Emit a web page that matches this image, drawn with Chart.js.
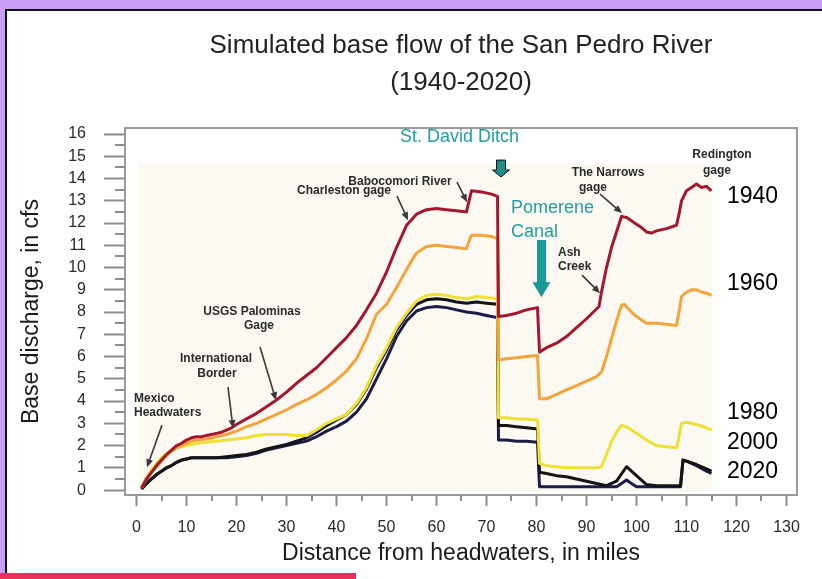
<!DOCTYPE html>
<html><head><meta charset="utf-8">
<script src="https://cdn.jsdelivr.net/npm/chart.js@4/dist/chart.umd.min.js"></script>
<style>html,body{margin:0;padding:0;background:#c99cf7;overflow:hidden}canvas{display:block}</style>
</head><body>
<canvas id="c" width="822" height="579"></canvas>
<script>
// ---------- DATA ----------
const xTicks = [0,10,20,30,40,50,60,70,80,90,100,110,120,130];
const yTicks = [0,1,2,3,4,5,6,7,8,9,10,11,12,13,14,15,16];
const seriesNames = ['1940','1960','1980','2000','2020'];

const miles1940 = [1,2,3,4,5,6,7,8,9,10,11,12,13,14,15,16,17,18,19,20,22,24,26,28,30,32,34,36,38,40,42,44,46,48,50,52,54,55,56,58,60,62,64,66,66.5,67,69,71,72.2,72.4,74,76,78,80.2,80.6,82,84,86,88,90,92.5,93,94,95,96,97,98,99,100,101,102,103,104,106,108,108.5,109,110,111,112,113,114,115];
const cfs1940   = [0.1,0.5,0.8,1.1,1.35,1.6,1.8,2.0,2.1,2.25,2.35,2.4,2.4,2.45,2.5,2.55,2.6,2.7,2.8,2.95,3.2,3.45,3.75,4.05,4.4,4.8,5.15,5.5,5.95,6.4,6.85,7.4,8.1,8.85,9.8,10.9,11.9,12.15,12.4,12.6,12.65,12.6,12.55,12.5,13.0,13.45,13.4,13.3,13.2,7.8,7.85,7.95,8.1,8.2,6.2,6.4,6.6,6.9,7.3,7.7,8.25,8.9,10.0,10.9,11.6,12.3,12.25,12.1,11.95,11.8,11.6,11.55,11.65,11.75,11.9,12.4,13.0,13.45,13.6,13.75,13.6,13.65,13.45];

const miles1960 = [1,2,3,4,5,6,7,8,9,10,11,12,14,16,18,20,22,24,26,28,30,32,34,36,38,40,42,44,46,48,50,52,54,55,56,58,60,62,64,66,66.5,67,69,71,72.2,72.4,74,76,78,80.2,80.6,82,84,86,88,90,92,93,94,95,96,97,97.5,99,100,102,104,106,108,108.5,109,110,111,112,113,114,115];
const cfs1960   = [0.1,0.5,0.8,1.05,1.3,1.55,1.75,1.9,2.0,2.1,2.2,2.25,2.3,2.4,2.5,2.65,2.85,3.0,3.2,3.4,3.6,3.85,4.05,4.3,4.6,4.95,5.35,5.9,6.8,7.9,8.35,9.1,9.9,10.3,10.65,10.95,11.0,10.95,10.9,10.85,11.2,11.45,11.45,11.4,11.3,5.85,5.9,5.95,6.0,6.05,4.1,4.1,4.3,4.5,4.7,4.9,5.1,5.3,6.0,6.8,7.6,8.3,8.35,8.0,7.8,7.5,7.5,7.45,7.4,8.0,8.7,8.9,9.0,9.0,8.9,8.85,8.75];

const miles1980 = [1,2,3,4,5,6,7,8,9,10,11,12,14,16,18,20,22,24,26,28,30,32,34,36,38,40,42,44,46,48,50,52,54,56,58,60,62,64,66,68,70,72.2,72.4,74,76,78,80.2,80.6,82,84,86,88,90,92,93,94,95,96,97,98,100,102,104,106,108,108.5,109,110,112,114,115];
const cfs1980   = [0.1,0.55,0.9,1.2,1.45,1.65,1.8,1.9,1.95,2.0,2.05,2.1,2.15,2.2,2.25,2.3,2.35,2.45,2.5,2.5,2.5,2.45,2.45,2.7,3.0,3.2,3.4,3.9,4.6,5.6,6.4,7.3,7.95,8.5,8.75,8.8,8.75,8.65,8.6,8.7,8.65,8.6,3.25,3.25,3.2,3.2,3.15,1.2,1.1,1.05,1.0,1.0,1.0,1.0,1.05,1.6,2.2,2.6,2.9,2.85,2.55,2.25,2.0,1.95,1.9,2.4,3.0,3.05,2.95,2.8,2.7];

const miles2000 = [1,2,3,4,5,6,7,8,9,10,11,12,14,16,18,20,22,24,26,28,30,32,34,36,38,40,42,44,46,48,50,52,54,56,58,60,62,64,66,68,70,72.2,72.4,74,76,78,80.2,80.6,82,84,86,88,90,92,94,96,98,100,102,104,106,108,108.8,109.3,110,112,114,115];
const cfs2000   = [0.05,0.3,0.5,0.7,0.85,1.0,1.1,1.25,1.35,1.4,1.45,1.45,1.45,1.45,1.5,1.55,1.6,1.7,1.85,1.95,2.05,2.2,2.35,2.6,2.9,3.15,3.4,3.85,4.55,5.5,6.3,7.2,7.85,8.35,8.55,8.6,8.55,8.45,8.4,8.45,8.4,8.35,2.9,2.9,2.85,2.8,2.75,0.8,0.75,0.65,0.6,0.5,0.4,0.3,0.2,0.4,1.05,0.65,0.25,0.2,0.2,0.2,0.2,1.35,1.3,1.15,0.95,0.85];

const miles2020 = [1,2,3,4,5,6,7,8,9,10,11,12,14,16,18,20,22,24,26,28,30,32,34,36,38,40,42,44,46,48,50,52,54,56,58,60,62,64,66,68,70,72.2,72.4,74,76,78,80.2,80.6,84,88,92,96,97,98,99,100,104,108,108.8,109.3,110,112,114,115];
const cfs2020   = [0.05,0.3,0.5,0.7,0.85,1.0,1.1,1.25,1.35,1.4,1.45,1.45,1.45,1.45,1.45,1.5,1.55,1.65,1.8,1.9,2.0,2.1,2.2,2.4,2.65,2.85,3.1,3.5,4.1,5.0,5.9,6.9,7.6,8.05,8.2,8.25,8.2,8.1,8.0,7.95,7.85,7.75,2.25,2.25,2.2,2.2,2.15,0.15,0.15,0.15,0.15,0.15,0.3,0.45,0.3,0.15,0.15,0.15,0.15,1.35,1.3,1.1,0.85,0.75];

const seriesMiles = [miles1940, miles1960, miles1980, miles2000, miles2020];
const seriesCfs   = [cfs1940, cfs1960, cfs1980, cfs2000, cfs2020];

// ---------- STYLE / ANNOTATION PLACEMENT ----------
const seriesColors = ['#a3172f','#f3a43a','#eee035','#141414','#1b1d48'];
const FONT = "'Liberation Sans', Arial, sans-serif";
const yearLabelPos = [[118.1,13.17],[118.1,9.26],[118.1,3.46],[118.1,2.11],[118.1,0.81]];
const smallLabels = [
  ['Babocomori River', 52.7, 13.84, 'center'],
  ['Charleston gage', 41.5, 13.44, 'center'],
  ['USGS Palominas', 23.1, 8.0, 'center'],
  ['Gage', 24.5, 7.37, 'center'],
  ['International', 15.9, 5.89, 'center'],
  ['Border', 16.1, 5.21, 'center'],
  ['Mexico', -0.5, 4.09, 'left'],
  ['Headwaters', -0.5, 3.46, 'left'],
  ['The Narrows', 94.3, 14.25, 'center'],
  ['gage', 91.3, 13.57, 'center'],
  ['Ash', 84.3, 10.65, 'left'],
  ['Creek', 84.3, 10.02, 'left'],
  ['Redington', 117.1, 15.06, 'center'],
  ['gage', 116.1, 14.34, 'center']
];
const pointerArrows = [
  [64.1,13.84,66.1,12.94],
  [52.1,13.21,54.3,12.13],
  [24.7,6.43,27.9,4.04],
  [18.3,4.63,19.3,2.79],
  [5.1,2.92,2.1,1.03],
  [92.7,13.3,97.1,12.45],
  [89.1,9.66,92.7,8.85]
];
const tealTexts = [['St. David Ditch',52.7,15.87],['Pomerene',74.9,12.67],['Canal',74.9,11.6]];

Chart.defaults.font.family = FONT;

const deco = {
  id: 'deco',
  beforeDraw(chart) {
    const ctx = chart.ctx, W = chart.width, H = chart.height;
    const {x, y} = chart.scales;
    ctx.save();
    ctx.fillStyle = '#c99cf7'; ctx.fillRect(0,0,W,H);
    ctx.fillStyle = '#ffffff'; ctx.fillRect(6,10,W-6,H-10);
    ctx.fillStyle = '#111'; ctx.fillRect(5,9,W-5,2); ctx.fillRect(5,9,2,H-9);
    ctx.fillStyle = '#e8325e'; ctx.fillRect(0,H-6,356,6);
    // scanned plot background
    const x0 = x.getPixelForValue(0.3), x1 = x.getPixelForValue(115.2);
    const y0 = y.getPixelForValue(14.7), y1 = y.getPixelForValue(-0.1);
    ctx.fillStyle = '#fcf9f3'; ctx.fillRect(x0,y0,x1-x0,y1-y0);
    ctx.restore();
  },
  afterDatasetsDraw(chart) {
    const ctx = chart.ctx, a = chart.chartArea;
    const {x, y} = chart.scales;
    ctx.save();
    // plot frame
    ctx.strokeStyle = '#9a9a9a'; ctx.lineWidth = 2;
    ctx.strokeRect(a.left, a.top, a.right-a.left, a.bottom-a.top);
    // minor ticks
    ctx.strokeStyle = '#8c8c8c'; ctx.lineWidth = 2;
    ctx.beginPath();
    for (let v = 0.5; v < 16; v += 1) { const p = Math.round(y.getPixelForValue(v)); ctx.moveTo(a.left-10,p); ctx.lineTo(a.left,p); }
    for (let v = 5; v < 130; v += 10) { const p = Math.round(x.getPixelForValue(v)); ctx.moveTo(p,a.bottom); ctx.lineTo(p,a.bottom+6); }
    ctx.stroke();
    // year labels
    ctx.fillStyle = '#000'; ctx.font = '23px ' + FONT; ctx.textAlign = 'left'; ctx.textBaseline = 'middle';
    seriesNames.forEach((n,i) => ctx.fillText(n, x.getPixelForValue(yearLabelPos[i][0]), y.getPixelForValue(yearLabelPos[i][1])));
    // small bold labels
    ctx.fillStyle = '#2b2b2b'; ctx.font = 'bold 12px ' + FONT;
    smallLabels.forEach(([t,mx,my,al]) => { ctx.textAlign = al; ctx.fillText(t, x.getPixelForValue(mx), y.getPixelForValue(my)); });
    // pointer arrows
    ctx.strokeStyle = '#3a3a3a'; ctx.fillStyle = '#3a3a3a'; ctx.lineWidth = 1.6;
    pointerArrows.forEach(([m1,c1,m2,c2]) => {
      const px1 = x.getPixelForValue(m1), py1 = y.getPixelForValue(c1);
      const px2 = x.getPixelForValue(m2), py2 = y.getPixelForValue(c2);
      const ang = Math.atan2(py2-py1, px2-px1);
      ctx.beginPath(); ctx.moveTo(px1,py1); ctx.lineTo(px2-5*Math.cos(ang), py2-5*Math.sin(ang)); ctx.stroke();
      ctx.beginPath(); ctx.moveTo(px2,py2);
      ctx.lineTo(px2-8*Math.cos(ang)+3.5*Math.sin(ang), py2-8*Math.sin(ang)-3.5*Math.cos(ang));
      ctx.lineTo(px2-8*Math.cos(ang)-3.5*Math.sin(ang), py2-8*Math.sin(ang)+3.5*Math.cos(ang));
      ctx.closePath(); ctx.fill();
    });
    // teal texts
    ctx.fillStyle = '#1fa09c'; ctx.font = '18px ' + FONT; ctx.textAlign = 'left';
    tealTexts.forEach(([t,mx,my]) => ctx.fillText(t, x.getPixelForValue(mx), y.getPixelForValue(my)));
    // teal block arrows
    function block(mx, cTop, cBot, shaftW, headW, headL, fill, stroke) {
      const cx = x.getPixelForValue(mx), t = y.getPixelForValue(cTop), b = y.getPixelForValue(cBot);
      ctx.beginPath();
      ctx.moveTo(cx-shaftW/2, t); ctx.lineTo(cx+shaftW/2, t); ctx.lineTo(cx+shaftW/2, b-headL);
      ctx.lineTo(cx+headW/2, b-headL); ctx.lineTo(cx, b); ctx.lineTo(cx-headW/2, b-headL);
      ctx.lineTo(cx-shaftW/2, b-headL); ctx.closePath();
      ctx.fillStyle = fill; ctx.fill();
      if (stroke) { ctx.strokeStyle = stroke; ctx.lineWidth = 1; ctx.stroke(); }
    }
    block(72.9, 14.83, 14.07, 9, 17, 7, '#1d8d8a', '#111');
    block(81.0, 11.24, 8.67, 9, 18, 15, '#1a9a97', null);
    ctx.restore();
  }
};

new Chart(document.getElementById('c'), {
  type: 'line',
  data: {
    datasets: seriesNames.map((n, i) => ({
      label: n,
      data: seriesMiles[i].map((m, j) => ({x: m, y: seriesCfs[i][j]})),
      borderColor: seriesColors[i],
      backgroundColor: seriesColors[i],
      borderWidth: 3,
      pointRadius: 0,
      tension: 0,
      fill: false,
      borderJoinStyle: 'round'
    }))
  },
  options: {
    responsive: false,
    animation: false,
    layout: { padding: { left: 0, right: 25, top: 10, bottom: 0 } },
    plugins: {
      legend: { display: false },
      tooltip: { enabled: false },
      title: {
        display: true,
        fullSize: false,
        text: ['Simulated base flow of the San Pedro River', '(1940-2020)'],
        color: '#222',
        font: { family: FONT, size: 26, weight: 'normal', lineHeight: 1.42 },
        padding: { top: 17.5, bottom: 26.7 }
      }
    },
    scales: {
      x: {
        type: 'linear', min: -2.3, max: 132.1,
        afterBuildTicks: s => { s.ticks = xTicks.map(v => ({value: v})); },
        afterFit: s => { s.height = 84; },
        grid: { drawOnChartArea: false, tickLength: 11, tickColor: '#8c8c8c', tickWidth: 2 },
        border: { display: false },
        ticks: { padding: 12, maxRotation: 0, autoSkip: false, color: '#2a2a2a', font: { size: 16 } },
        title: { display: true, text: 'Distance from headwaters, in miles', color: '#1a1a1a', font: { size: 23 }, padding: { top: 0, bottom: 12 } }
      },
      y: {
        type: 'linear', min: -0.22, max: 16.27,
        afterBuildTicks: s => { s.ticks = yTicks.map(v => ({value: v})); },
        afterFit: s => { s.width = 125; },
        grid: { drawOnChartArea: false, tickLength: 21, tickColor: '#8c8c8c', tickWidth: 2 },
        border: { display: false },
        ticks: { padding: 18, color: '#2a2a2a', font: { size: 16 } },
        title: { display: true, text: 'Base discharge, in cfs', color: '#1a1a1a', font: { size: 23 }, padding: { top: 18, bottom: 0 } }
      }
    }
  },
  plugins: [deco]
});
</script>
</body></html>
